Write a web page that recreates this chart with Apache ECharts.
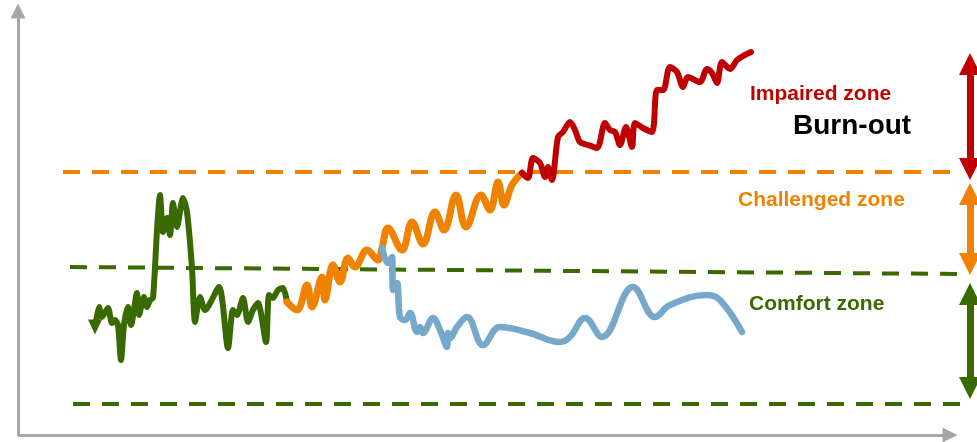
<!DOCTYPE html>
<html>
<head>
<meta charset="utf-8">
<script src="https://cdn.jsdelivr.net/npm/echarts@6/dist/echarts.min.js"></script>
<style>
  html, body { margin: 0; padding: 0; background: #ffffff; }
  #chart { width: 977px; height: 442px; }
</style>
</head>
<body>
<div id="chart"></div>
<script>
// Stress trajectory over time: [time, stress level]
const comfortTrace = [
  [7.8,22.6],[8.1,25.6],[8.4,23.6],[9.0,25.4],[9.4,22.4],[9.7,23.0],[10.0,22.0],
  [10.3,15.0],[10.6,22.0],[11.0,25.6],[11.3,22.0],[11.9,28.4],[12.1,24.0],[12.6,27.6],
  [12.9,25.6],[13.2,27.0],[13.5,27.4],[13.9,41.0],[14.2,48.0],[14.5,40.6],[14.9,43.4],
  [15.2,40.0],[15.5,46.4],[15.9,41.6],[16.5,47.4],[16.9,44.6],[17.4,33.4],[17.7,22.6],
  [18.2,27.6],[18.7,25.0],[20.1,29.6],[21.0,17.4],[21.5,25.0],[21.9,24.0],[22.5,27.4],
  [23.0,22.6],[23.5,25.0],[24.0,26.4],[24.8,18.6],[25.1,28.0],[25.5,27.4],[26.0,29.0],
  [26.5,29.4],[26.9,26.6]
];
const challengedTrace = [
  [26.9,26.6],[27.9,25.0],[28.9,30.0],[29.4,25.6],[30.4,31.6],[30.7,27.0],[31.5,34.0],
  [32.2,30.6],[33.0,35.4],[33.7,33.6],[34.9,37.0],[36.0,35.0],[36.4,37.4],[37.0,41.4],
  [38.4,37.0],[39.4,42.6],[40.5,38.2],[41.7,44.6],[42.6,41.0],[43.8,48.0],[44.8,41.6],
  [46.3,48.0],[47.2,45.0],[48.0,50.6],[48.6,46.0],[49.4,50.0],[50.4,52.4]
];
const impairedTrace = [
  [50.4,52.4],[51.0,51.4],[51.5,55.4],[52.2,54.4],[52.7,51.6],[53.0,53.6],[53.4,51.0],
  [54.0,59.6],[54.5,60.6],[55.2,62.6],[55.7,61.0],[56.2,58.6],[57.0,58.0],[57.9,57.4],
  [58.7,62.4],[59.2,61.0],[59.7,60.6],[60.2,58.0],[60.8,61.6],[61.4,57.6],[61.7,62.4],
  [62.5,61.4],[63.4,60.6],[63.9,69.0],[64.5,69.0],[65.2,73.6],[65.9,72.6],[66.5,69.6],
  [67.0,71.6],[68.2,70.6],[68.9,73.2],[69.4,72.4],[69.9,70.4],[70.4,74.6],[71.2,73.2],
  [71.9,75.0],[72.5,75.8],[73.3,76.6]
];
const recoveryTrace = [
  [36.4,37.4],[37.0,34.4],[37.4,35.6],[37.5,29.0],[37.9,30.4],[38.2,23.6],[38.7,23.0],
  [39.2,24.4],[39.9,20.6],[40.2,21.6],[40.5,20.4],[41.5,23.4],[42.2,21.0],[42.9,17.6],
  [43.0,20.4],[43.2,19.4],[43.9,21.6],[44.9,23.6],[46.5,18.0],[48.2,21.6],[51.2,20.4],
  [54.2,18.6],[55.2,19.6],[56.7,23.4],[58.4,19.6],[61.5,29.6],[63.7,23.6],[65.2,26.0],
  [68.9,28.0],[70.2,27.0],[72.4,20.6]
];

// Zone boundaries (start point, end point)
const challengedThreshold = [[4.5,52.6],[93.5,52.6]];
const comfortUpperThreshold = [[5.2,33.6],[94.1,32.2]];
const comfortLowerThreshold = [[5.5,6.2],[94.5,6.2]];

// Extent of each zone marker on the right: [top, bottom]
const impairedSpan = [74.2,53.2];
const challengedSpan = [48.2,34.2];
const comfortSpan = [28.2,9.4];
const spanTime = 95.2;

// Time axis arrow, from origin to its end
const timeAxisEnd = 93.2;

const zoneNames = ['Impaired zone','Burn-out','Challenged zone','Comfort zone'];

const RED = '#C00000', ORANGE = '#EF8200', GREEN = '#386A00', BLUE = '#75A8CA', GREY = '#A6A6A6';
const FONT = '"Liberation Sans", Arial, sans-serif';

// dashed horizontal threshold
function boundary(pts, color) {
  return [
    { coord: pts[0], symbol: 'none', lineStyle: { color: color, width: 4, type: [17, 12] } },
    { coord: pts[1], symbol: 'none' }
  ];
}
// double-headed vertical zone marker
function span(range, color) {
  return [
    { coord: [spanTime, range[0]], symbol: 'triangle', symbolSize: [22, 22],
      lineStyle: { color: color, width: 7, type: 'solid' }, itemStyle: { color: color } },
    { coord: [spanTime, range[1]], symbol: 'triangle', symbolSize: [22, 22], itemStyle: { color: color } }
  ];
}
function marks(pairs) {
  return {
    silent: true, animation: false, z: 1,
    symbol: ['none', 'none'],
    label: { show: false }, emphasis: { disabled: true },
    data: pairs
  };
}

const chart = echarts.init(document.getElementById('chart'), null, { renderer: 'canvas' });
chart.setOption({
  animation: false,
  backgroundColor: '#ffffff',
  grid: { left: 18, right: 1, top: 11, bottom: 7 },
  xAxis: {
    type: 'value', min: 0, max: 95.8,
    axisLine: { show: false },
    axisTick: { show: false }, axisLabel: { show: false }, splitLine: { show: false }
  },
  yAxis: {
    type: 'value', min: 0, max: 84.8,
    axisLine: { show: true, symbol: ['none', 'triangle'], symbolSize: [15, 15],
      lineStyle: { color: GREY, width: 3 } },
    axisTick: { show: false }, axisLabel: { show: false }, splitLine: { show: false }
  },
  series: [
    {
      name: 'comfort', type: 'line', data: comfortTrace, z: 2, smooth: 0.25,
      showSymbol: false, clip: false,
      lineStyle: { color: GREEN, width: 6, join: 'round', cap: 'round' },
      markLine: marks([
        [
          { coord: [0, 0], symbol: 'none', lineStyle: { color: GREY, width: 3, type: 'solid' } },
          { coord: [timeAxisEnd, 0], symbol: 'triangle', symbolSize: [15, 15], itemStyle: { color: GREY } }
        ],
        boundary(comfortUpperThreshold, GREEN),
        boundary(comfortLowerThreshold, GREEN),
        span(comfortSpan, GREEN)
      ]),
      markPoint: {
        silent: true, animation: false,
        symbol: 'triangle', symbolRotate: 180, symbolSize: [14, 15], symbolOffset: [-1, 5],
        itemStyle: { color: GREEN }, label: { show: false },
        data: [{ coord: comfortTrace[0] }]
      }
    },
    {
      name: 'challenged', type: 'line', data: challengedTrace, z: 3, smooth: 0.4,
      showSymbol: false, clip: false,
      lineStyle: { color: ORANGE, width: 7, join: 'round', cap: 'round' },
      markLine: marks([
        boundary(challengedThreshold, ORANGE),
        span(challengedSpan, ORANGE)
      ])
    },
    {
      name: 'impaired', type: 'line', data: impairedTrace, z: 4, smooth: 0.3,
      showSymbol: false, clip: false,
      lineStyle: { color: RED, width: 6, join: 'round', cap: 'round' },
      markLine: marks([
        span(impairedSpan, RED)
      ])
    },
    {
      name: 'recovery', type: 'line', data: recoveryTrace, z: 5, smooth: 0.4,
      showSymbol: false, clip: false,
      lineStyle: { color: BLUE, width: 6.5, join: 'round', cap: 'round' }
    },
    {
      name: 'zoneLabels', type: 'scatter', symbolSize: 0, z: 6, silent: true,
      itemStyle: { opacity: 1 },
      label: {
        show: true, formatter: '{b}', position: [0, 0], align: 'left', verticalAlign: 'middle',
        fontFamily: FONT, fontWeight: 'bold', fontSize: 21, opacity: 1
      },
      data: [
        { name: zoneNames[0], value: [73.2, 68.2], label: { color: RED } },
        { name: zoneNames[1], value: [77.5, 61.8], label: { color: '#000000', fontSize: 28 } },
        { name: zoneNames[2], value: [72.0, 47.0], label: { color: ORANGE } },
        { name: zoneNames[3], value: [73.1, 26.2], label: { color: GREEN } }
      ]
    }
  ]
});
</script>
</body>
</html>
